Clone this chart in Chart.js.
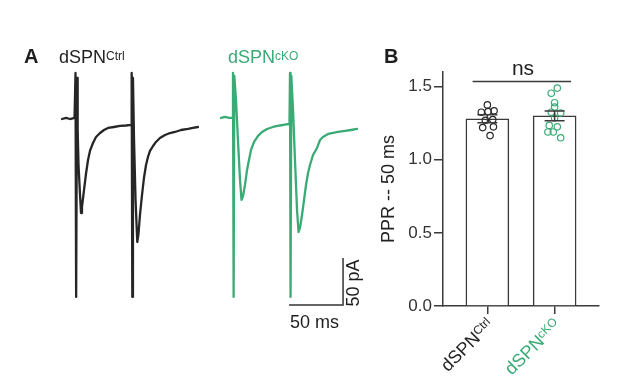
<!DOCTYPE html>
<html><head><meta charset="utf-8">
<script src="https://cdn.jsdelivr.net/npm/chart.js@4/dist/chart.umd.min.js"></script>
<style>
html,body{margin:0;padding:0;background:#fff;}
#wrap{position:relative;width:617px;height:384px;overflow:hidden;font-family:"Liberation Sans",Arial,sans-serif;}
canvas{position:absolute;}
.t{position:absolute;line-height:1;white-space:nowrap;color:#1e1e1e;}
.sup{font-size:12px;vertical-align:3px;}
</style></head><body>
<div id="wrap">
<canvas id="ctrl" width="210" height="384" style="left:0;top:0"></canvas>
<canvas id="cko" width="170" height="384" style="left:210px;top:0"></canvas>
<canvas id="ppr" width="237" height="384" style="left:380px;top:0"></canvas>
<div class="t" style="left:24px;top:46px;font-size:20px;font-weight:bold">A</div>
<div class="t" id="lblCtrl" style="left:59px;top:47.5px;font-size:18px"></div>
<div class="t" id="lblCko" style="left:228px;top:47.5px;font-size:18px;color:#3bab76"></div>
<div class="t" style="left:384px;top:46.3px;font-size:20px;font-weight:bold">B</div>
<div class="t" style="left:493px;top:57.2px;width:60px;text-align:center;font-size:21px">ns</div>
<div class="t" id="msLbl" style="left:290px;top:312.8px;font-size:18px"></div>
<div class="t" id="paLbl" style="left:322.8px;top:274px;width:60px;text-align:center;font-size:18px;transform:rotate(-90deg);transform-origin:50% 50%"></div>
</div>
<script>
// ---------- Panel A: example traces (time in ms, current in pA) ----------
const ctrlTimeMs = [0,3.7,7.4,11.6, 12.5,13.1,13.9,14.5, 15.3,16.7,17.6,18.5, 20.4,22.2,24.1,25.9, 28.7,31.5,35.2,38.9, 42.6,48.1,53.7,59.3, 63.9,64.5,65.1,65.7, 66.7,68.1,69.7,70.8, 72.2,74.1,75.9,77.8, 79.6,81.5,84.3,87, 90.7,95.4,100,104.6, 110.2,116.7,121.3,125.9];
const ctrlCurrentPA = [-1.1,0,-1.1,0, 47.9,-190.4,42.6,-12.8, -50,-81.9,-101.1,-94.7, -76.6,-59.6,-44.7,-35.1, -26.6,-20.2,-16,-12.8, -10.6,-9.6,-8.5,-8, -7.4,47.9,-190.4,42.6, -23.4,-87.2,-131.9,-123.4, -103.2,-81.9,-63.8,-50, -41.5,-35.1,-29.8,-25.5, -21.3,-18.1,-16,-14.9, -12.8,-11.7,-10.6,-9.6];
const ckoTimeMs = [0,3.7,7.4,10.2, 11.1,11.7,12.3,13.9, 15.7,17.6,19,20.4, 22.2,24.1,25.9,27.8, 30.6,34.3,38,42.6, 48.1,54.6,60.2,63.4, 63.9,64.4,65.1,66.7, 68.5,70.4,71.8,73.1, 75,76.9,78.7,80.6, 82.4,85.2,88.9,91.7, 94.4,99.1,102.8,108.3, 114.8,120.4,125.9];
const ckoCurrentPA = [0,1.1,0,0, 47.9,-190.4,44.7,19.1, -23.4,-66,-87.2,-83, -71.3,-55.3,-44.7,-34, -25.5,-19.1,-14.9,-11.7, -9.6,-8,-6.9,-6.4, 47.9,-190.4,44.7,8.5, -44.7,-97.9,-121.3,-117, -103.2,-87.2,-71.3,-58.5, -50,-39.4,-31.9,-23.4, -20.2,-17,-16,-14.9, -13.8,-12.8,-11.7];
const scaleBarMs = 50;
const scaleBarPA = 50;
const scaleBarCorner = [113, -199]; // ms, pA
const traceNames = ['dSPN', 'dSPN'];
const traceSups = ['Ctrl', 'cKO'];

// ---------- Panel B: paired-pulse ratio ----------
const groups = ['Ctrl', 'cKO'];
const groupColors = ['#262626', '#3bab76'];
const pprMean = [1.28, 1.30];
const pprSem = [0.027, 0.034];
const ctrlJitter = [0.00,-0.09,0.01,0.10,-0.03,0.08,-0.07,0.09,0.04];
const ctrlPPR = [1.375,1.325,1.33,1.335,1.27,1.275,1.22,1.225,1.165];
const ckoJitter = [0.04,-0.05,0.00,0.00,-0.05,0.09,0.00,-0.08,0.04,-0.10,-0.02,0.09];
const ckoPPR = [1.49,1.455,1.39,1.36,1.325,1.32,1.285,1.235,1.225,1.19,1.19,1.15];
const yTicks = [0, 0.5, 1.0, 1.5];
const yTitle = 'PPR -- 50 ms';
const sigLabel = 'ns';

const FONT = '"Liberation Sans", Arial, sans-serif';
const AX = '#3a3a3a';

document.getElementById('lblCtrl').innerHTML = traceNames[0] + '<span class="sup">' + traceSups[0] + '</span>';
document.getElementById('lblCko').innerHTML = traceNames[1] + '<span class="sup">' + traceSups[1] + '</span>';
document.getElementById('msLbl').textContent = scaleBarMs + ' ms';
document.getElementById('paLbl').textContent = scaleBarPA + ' pA';

function traceChart(id, t, pA, color, xMin, xMax, extra) {
  return new Chart(document.getElementById(id), {
    type: 'scatter',
    data: { datasets: [{
      data: t.map((x, i) => ({ x: x, y: pA[i] })),
      showLine: true, borderColor: color, borderWidth: 2.3, pointRadius: 0,
      tension: 0, borderJoinStyle: 'round', borderCapStyle: 'round', fill: false
    }].concat(extra || []) },
    options: {
      responsive: false, animation: false, devicePixelRatio: 1,
      layout: { padding: 0 },
      plugins: { legend: { display: false }, tooltip: { enabled: false } },
      scales: {
        x: { type: 'linear', display: false, min: xMin, max: xMax },
        y: { type: 'linear', display: false, min: -283, max: 125.5 }
      }
    }
  });
}

traceChart('ctrl', ctrlTimeMs, ctrlCurrentPA, groupColors[0], -57.41, 137.04);
traceChart('cko', ckoTimeMs, ckoCurrentPA, groupColors[1], -10.19, 147.22, [{
  data: [
    { x: scaleBarCorner[0] - scaleBarMs, y: scaleBarCorner[1] },
    { x: scaleBarCorner[0], y: scaleBarCorner[1] },
    { x: scaleBarCorner[0], y: scaleBarCorner[1] + scaleBarPA }
  ],
  showLine: true, borderColor: '#333', borderWidth: 1.5, pointRadius: 0, tension: 0
}]);

const pprPlugin = {
  id: 'pprExtras',
  afterDatasetsDraw(chart) {
    const xs = chart.scales.x, ys = chart.scales.y, ctx = chart.ctx;
    ctx.save();
    ctx.strokeStyle = AX; ctx.lineWidth = 1.5;
    pprMean.forEach((m, i) => {
      const px = xs.getPixelForValue(i);
      const yHi = ys.getPixelForValue(m + pprSem[i]);
      const yLo = ys.getPixelForValue(m - pprSem[i]);
      ctx.beginPath();
      ctx.moveTo(px, yHi); ctx.lineTo(px, yLo);
      ctx.moveTo(px - 10, yHi); ctx.lineTo(px + 10, yHi);
      ctx.moveTo(px - 10, yLo); ctx.lineTo(px + 10, yLo);
      ctx.stroke();
    });
    // significance bracket
    const yb = ys.getPixelForValue(1.535);
    ctx.beginPath();
    ctx.moveTo(xs.getPixelForValue(-0.22), yb);
    ctx.lineTo(xs.getPixelForValue(1.245), yb);
    ctx.stroke();
    ctx.restore();
  },
  afterDraw(chart) {
    const xs = chart.scales.x, ctx = chart.ctx;
    groups.forEach((g, i) => {
      const px = xs.getPixelForValue(i);
      ctx.save();
      ctx.translate(px + 7, xs.top + 20);
      ctx.rotate(-Math.PI / 4);
      ctx.fillStyle = groupColors[i];
      ctx.textBaseline = 'alphabetic';
      ctx.textAlign = 'left';
      ctx.font = '12px ' + FONT;
      const w2 = ctx.measureText(g).width;
      ctx.font = '18px ' + FONT;
      const w1 = ctx.measureText('dSPN').width;
      ctx.fillText('dSPN', -(w1 + w2), 0);
      ctx.font = '12px ' + FONT;
      ctx.fillText(g, -w2, -5);
      ctx.restore();
    });
  }
};

new Chart(document.getElementById('ppr'), {
  type: 'bar',
  data: { datasets: [
    { type: 'bar', data: pprMean.map((m, i) => ({ x: i, y: m })), backgroundColor: '#ffffff',
      borderColor: AX, borderWidth: 1.5, barThickness: 43, borderSkipped: 'bottom', order: 3 },
    { type: 'scatter', data: ctrlPPR.map((v, i) => ({ x: 0 + ctrlJitter[i], y: v })),
      pointRadius: 3.2, pointBorderWidth: 1.2, pointBorderColor: groupColors[0],
      pointBackgroundColor: 'rgba(255,255,255,0)', order: 1 },
    { type: 'scatter', data: ckoPPR.map((v, i) => ({ x: 1 + ckoJitter[i], y: v })),
      pointRadius: 3.2, pointBorderWidth: 1.2, pointBorderColor: groupColors[1],
      pointBackgroundColor: 'rgba(255,255,255,0)', order: 1 }
  ] },
  options: {
    responsive: false, animation: false, devicePixelRatio: 1,
    layout: { padding: { top: 72, right: 18, bottom: 0, left: 0 } },
    plugins: { legend: { display: false }, tooltip: { enabled: false } },
    scales: {
      x: {
        type: 'linear', min: -0.66, max: 1.66, offset: false,
        afterBuildTicks: s => { s.ticks = groups.map((g, i) => ({ value: i })); },
        ticks: { display: false },
        grid: { offset: false, drawOnChartArea: false, drawTicks: true, tickLength: 8, color: AX, lineWidth: 1.5 },
        border: { color: AX, width: 1.5 },
        afterFit: s => { s.height = 78; }
      },
      y: {
        type: 'linear', min: 0, max: 1.6,
        afterBuildTicks: s => { s.ticks = yTicks.map(v => ({ value: v })); },
        ticks: { callback: v => Number(v).toFixed(1), font: { family: FONT, size: 17 }, color: '#333', padding: 2 },
        grid: { drawOnChartArea: false, drawTicks: true, tickLength: 9, color: AX, lineWidth: 1.5 },
        border: { color: AX, width: 1.5 },
        title: { display: true, text: yTitle, font: { family: FONT, size: 18, lineHeight: 1 }, color: '#222', padding: 0 },
        afterFit: s => { s.width = 63; }
      }
    }
  },
  plugins: [pprPlugin]
});
</script>
</body></html>
